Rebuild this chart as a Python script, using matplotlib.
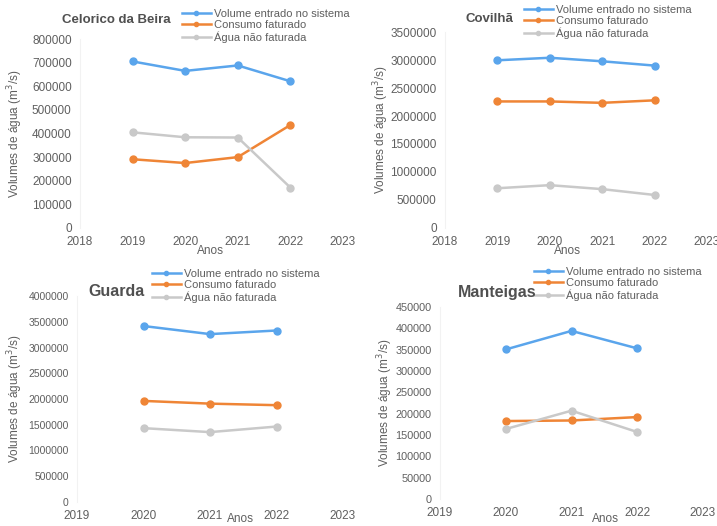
import matplotlib
matplotlib.use("Agg")
import matplotlib.pyplot as plt
from matplotlib.ticker import FuncFormatter

W, H = 717, 526

series_labels = ["Volume entrado no sistema", "Consumo faturado", "Água não faturada"]
colors = ["#5AA5EC", "#EF8536", "#C9C9C9"]

# Celorico da Beira
cb_years = [2019, 2020, 2021, 2022]
cb_entrado = [705000, 665000, 688000, 621000]
cb_consumo = [291000, 275000, 300000, 436000]
cb_nao_fat = [405000, 384000, 383000, 171000]

# Covilhã
cv_years = [2019, 2020, 2021, 2022]
cv_entrado = [2995000, 3040000, 2977000, 2900000]
cv_consumo = [2260000, 2260000, 2235000, 2280000]
cv_nao_fat = [710000, 765000, 694000, 590000]

# Guarda
gu_years = [2020, 2021, 2022]
gu_entrado = [3417000, 3260000, 3330000]
gu_consumo = [1963000, 1910000, 1880000]
gu_nao_fat = [1434000, 1357000, 1465000]

# Manteigas
mt_years = [2020, 2021, 2022]
mt_entrado = [350500, 394000, 353000]
mt_consumo = [182700, 184000, 192000]
mt_nao_fat = [164000, 207000, 157000]

TXT = "#5f5f5f"
FONT = ["Liberation Sans Narrow", "Liberation Sans", "DejaVu Sans"]
plt.rcParams["font.family"] = FONT

fig = plt.figure(figsize=(W / 100, H / 100), dpi=100)


def px_axes(x0, x1, ytop, ybot):
    return fig.add_axes([x0 / W, (H - ybot) / H, (x1 - x0) / W, (ybot - ytop) / H])


panels = [
    dict(name="Celorico da Beira", box=(80, 343, 39, 228), xlim=(2018, 2023),
         ylim=(0, 800000), step=100000, years=cb_years,
         data=(cb_entrado, cb_consumo, cb_nao_fat),
         title_xy=(62, 20), title_size=9.5, leg_xy=(182, 9),
         anos_xy=(210, 251), ytick_size=8.5, ylabel_x=15),
    dict(name="Covilhã", box=(445, 707, 32, 228), xlim=(2018, 2023),
         ylim=(0, 3500000), step=500000, years=cv_years,
         data=(cv_entrado, cv_consumo, cv_nao_fat),
         title_xy=(466, 19), title_size=9.5, leg_xy=(524, 5),
         anos_xy=(567, 251), ytick_size=8.5, ylabel_x=381),
    dict(name="Guarda", box=(77, 343, 296, 502), xlim=(2019, 2023),
         ylim=(0, 4000000), step=500000, years=gu_years,
         data=(gu_entrado, gu_consumo, gu_nao_fat),
         title_xy=(88, 291), title_size=11.5, leg_xy=(152, 269),
         anos_xy=(240, 519), ytick_size=7.5, ylabel_x=15),
    dict(name="Manteigas", box=(440, 703, 307, 499), xlim=(2019, 2023),
         ylim=(0, 450000), step=50000, years=mt_years,
         data=(mt_entrado, mt_consumo, mt_nao_fat),
         title_xy=(458, 292), title_size=11.5, leg_xy=(534, 267),
         anos_xy=(605, 519), ytick_size=7.8, ylabel_x=385),
]

plain = FuncFormatter(lambda v, _: f"{int(round(v))}")

for p in panels:
    ax = px_axes(*p["box"])
    handles = []
    for vals, col, lab in zip(p["data"], colors, series_labels):
        h, = ax.plot(p["years"], vals, color=col, lw=1.8, marker="o",
                     markersize=5, label=lab, clip_on=False)
        handles.append(h)
    ax.set_xlim(*p["xlim"])
    ax.set_ylim(*p["ylim"])
    ax.set_xticks(range(p["xlim"][0], p["xlim"][1] + 1))
    ax.set_yticks(range(0, p["ylim"][1] + 1, p["step"]))
    ax.yaxis.set_major_formatter(plain)
    for s in ax.spines.values():
        s.set_visible(False)
    ax.spines["left"].set_visible(True)
    ax.spines["left"].set_color("#f2f2f2")
    ax.tick_params(length=0, labelsize=8.5, labelcolor=TXT, pad=6)
    ax.tick_params(axis="y", labelsize=p["ytick_size"])
    ax.set_ylabel("Volumes de água (m$^3$/s)", color=TXT, fontsize=8.5)
    x0, x1 = p["box"][0], p["box"][1]
    ax.yaxis.set_label_coords((p["ylabel_x"] - x0) / (x1 - x0), 0.5)
    ax.yaxis.label.set_va("center")
    fig.text(p["anos_xy"][0] / W, 1 - p["anos_xy"][1] / H, "Anos", color=TXT,
             fontsize=8.5, ha="center", va="center")
    fig.text(p["title_xy"][0] / W, 1 - p["title_xy"][1] / H, p["name"], color="#505050",
             fontsize=p["title_size"], fontweight="bold", ha="left", va="center")
    ax.legend(handles=handles, loc="upper left",
              bbox_to_anchor=(p["leg_xy"][0] / W, 1 - p["leg_xy"][1] / H),
              bbox_transform=fig.transFigure, frameon=False, fontsize=8,
              labelcolor=TXT, handlelength=2.6, handletextpad=0.3,
              labelspacing=0.1, borderpad=0, borderaxespad=0, markerscale=0.6)

fig.savefig("out.png", dpi=100, facecolor="white")
